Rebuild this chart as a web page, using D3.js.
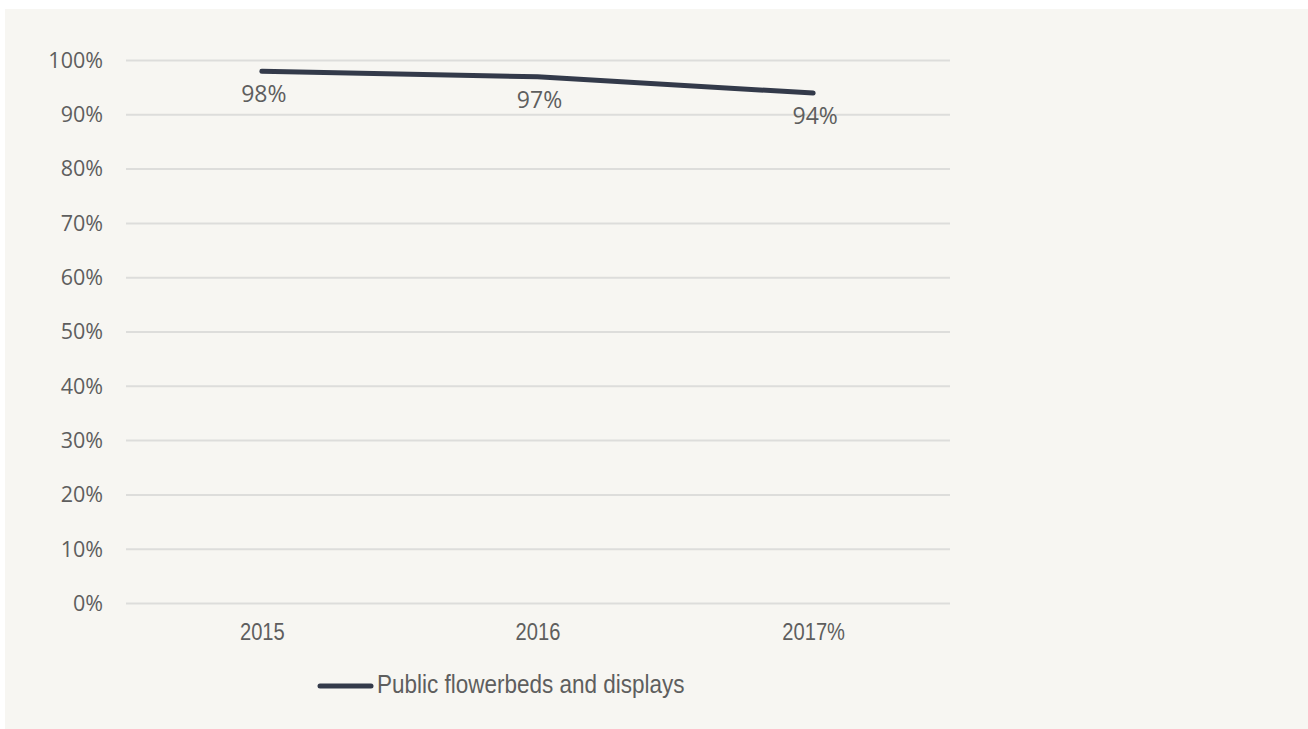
<!DOCTYPE html>
<html>
<head>
<meta charset="utf-8">
<script src="https://cdn.jsdelivr.net/npm/d3@7"></script>
<style>
  html, body { margin: 0; padding: 0; background: #ffffff; }
  svg { display: block; }
</style>
</head>
<body>
<svg id="chart" width="1308" height="729"></svg>
<script>
// Share of public flowerbeds and displays rated well, by year
const years = ["2015", "2016", "2017%"];
const values = [0.98, 0.97, 0.94];
const valueLabels = ["98%", "97%", "94%"];
const yTicks = [0, 0.1, 0.2, 0.3, 0.4, 0.5, 0.6, 0.7, 0.8, 0.9, 1.0];
const seriesName = "Public flowerbeds and displays";

const svg = d3.select("#chart");
const lineColor = "#333a4a";
const textColor = "#5e5e5e";
const narrowFont = "'Liberation Sans', Arial, sans-serif";
const roundFont = "'Open Sans', 'Noto Sans', sans-serif";
const squeeze = 0.84;       // horizontal compression for the axis year labels
const legendSqueeze = 0.9;  // horizontal compression for the legend text

// panel background
svg.append("rect")
  .attr("x", 5).attr("y", 9)
  .attr("width", 1303).attr("height", 720)
  .attr("fill", "#f7f6f2");

const x = d3.scalePoint().domain(years).range([124, 951]).padding(0.5);
const y = d3.scaleLinear().domain([0, 1]).range([603.5, 60.5]);

// horizontal gridlines
svg.append("g")
  .selectAll("line")
  .data(yTicks)
  .join("line")
  .attr("x1", 126).attr("x2", 950)
  .attr("y1", d => y(d)).attr("y2", d => y(d))
  .attr("stroke", "#dddddb")
  .attr("stroke-width", 2);

// y axis labels
const yAxis = d3.axisLeft(y).tickValues(yTicks).tickFormat(d3.format(".0%")).tickSize(0).tickPadding(0);
const gy = svg.append("g").attr("transform", "translate(103,0)").call(yAxis);
gy.select(".domain").remove();
gy.selectAll("text")
  .attr("font-family", roundFont)
  .attr("font-size", 21.5)
  .attr("fill", textColor);

// x axis labels (condensed by a horizontal scale around each tick)
const xAxis = d3.axisBottom(x).tickSize(0).tickPadding(0);
const gx = svg.append("g").attr("transform", "translate(0,623)").call(xAxis);
gx.select(".domain").remove();
gx.selectAll("text")
  .attr("font-family", narrowFont)
  .attr("font-size", 24)
  .attr("fill", textColor)
  .attr("transform", `scale(${squeeze},1)`);

// series line
const pts = years.map((yr, i) => [x(yr), y(values[i])]);
svg.append("path")
  .attr("d", d3.line()(pts))
  .attr("fill", "none")
  .attr("stroke", lineColor)
  .attr("stroke-width", 5)
  .attr("stroke-linecap", "round")
  .attr("stroke-linejoin", "round");

// value labels below points
svg.append("g")
  .selectAll("text")
  .data(years)
  .join("text")
  .attr("x", d => x(d) + 2)
  .attr("y", (d, i) => y(values[i]) + 31)
  .attr("text-anchor", "middle")
  .attr("font-family", roundFont)
  .attr("font-size", 23)
  .attr("fill", textColor)
  .text((d, i) => valueLabels[i]);

// legend
const lg = svg.append("g");
lg.append("line")
  .attr("x1", 320).attr("x2", 371)
  .attr("y1", 686).attr("y2", 686)
  .attr("stroke", lineColor)
  .attr("stroke-width", 5)
  .attr("stroke-linecap", "round");
lg.append("text")
  .attr("transform", `translate(377,693) scale(${legendSqueeze},1)`)
  .attr("font-family", narrowFont)
  .attr("font-size", 25)
  .attr("fill", textColor)
  .text(seriesName);
</script>
</body>
</html>
